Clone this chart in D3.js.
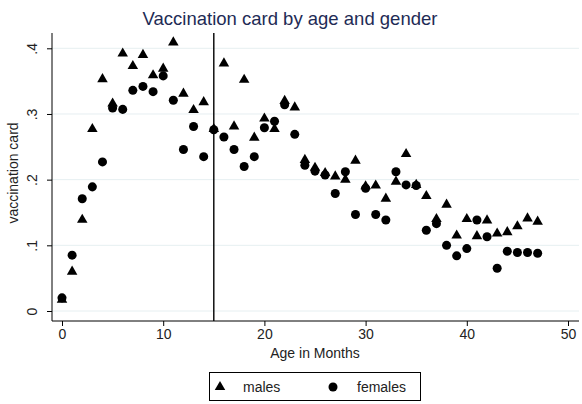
<!DOCTYPE html>
<html>
<head>
<meta charset="utf-8">
<script src="https://cdn.jsdelivr.net/npm/d3@7"></script>
<style>
  body { margin: 0; background: #fff; }
  svg { display: block; font-family: "Liberation Sans", Arial, sans-serif; }
</style>
</head>
<body>
<svg id="chart" width="582" height="404"></svg>
<script>
// ---- data ----
const months = d3.range(0, 48);
const males = [0.017, 0.06, 0.139, 0.277, 0.353, 0.316, 0.392, 0.373, 0.39, 0.359,
  0.369, 0.409, 0.331, 0.306, 0.318, 0.277, 0.377, 0.281, 0.352, 0.264,
  0.293, 0.277, 0.32, 0.31, 0.23, 0.218, 0.21, 0.205, 0.2, 0.229,
  0.19, 0.191, 0.171, 0.197, 0.239, 0.192, 0.175, 0.14, 0.162, 0.115,
  0.14, 0.114, 0.138, 0.118, 0.12, 0.129, 0.141, 0.136];
const females = [0.02, 0.085, 0.171, 0.189, 0.227, 0.309, 0.307, 0.336, 0.342, 0.334,
  0.358, 0.321, 0.246, 0.281, 0.235, 0.276, 0.265, 0.246, 0.22, 0.235,
  0.279, 0.289, 0.314, 0.269, 0.222, 0.213, 0.207, 0.179, 0.212, 0.147,
  0.187, 0.147, 0.1385, 0.212, 0.192, 0.191, 0.123, 0.133, 0.1, 0.084,
  0.095, 0.1385, 0.113, 0.065, 0.091, 0.089, 0.089, 0.088];
const xTicks = [0, 10, 20, 30, 40, 50];
const yTicks = [0, 0.1, 0.2, 0.3, 0.4];
const yTickLabels = ["0", ".1", ".2", ".3", ".4"];
const cutoff = 15;

// ---- layout ----
const svg = d3.select("#chart");
const plot = { left: 52, right: 579, top: 33, bottom: 321 };

const x = d3.scaleLinear().domain([0, 50]).range([62, 568]);
const y = d3.scaleLinear().domain([0, 0.4]).range([311, 48.3]);

// gridlines
svg.append("g")
  .selectAll("line")
  .data(yTicks)
  .join("line")
  .attr("x1", plot.left).attr("x2", plot.right)
  .attr("y1", d => y(d)).attr("y2", d => y(d))
  .attr("stroke", "#e6eff1").attr("stroke-width", 1);

// y axis
const yAxis = svg.append("g")
  .attr("transform", `translate(${plot.left},0)`)
  .call(d3.axisLeft(y).tickValues(yTicks).tickSize(5)
    .tickFormat((d, i) => yTickLabels[i]));
yAxis.select(".domain").attr("d", `M0,${plot.top}V${plot.bottom}`).attr("stroke", "#000");
yAxis.selectAll(".tick line").attr("stroke", "#000");
yAxis.selectAll(".tick text")
  .attr("x", null).attr("dy", null)
  .attr("transform", "translate(-15,0) rotate(-90)")
  .attr("text-anchor", "middle")
  .attr("font-size", 14).attr("fill", "#222");

// x axis
const xAxis = svg.append("g")
  .attr("transform", `translate(0,${plot.bottom})`)
  .call(d3.axisBottom(x).tickValues(xTicks).tickSize(5));
xAxis.select(".domain").attr("d", `M${plot.left},0H${plot.right}`).attr("stroke", "#000");
xAxis.selectAll(".tick line").attr("stroke", "#000");
xAxis.selectAll(".tick text")
  .attr("y", 8).attr("font-size", 14).attr("fill", "#222");

// axis titles
svg.append("text")
  .attr("x", (x(0) + x(50)) / 2).attr("y", 358)
  .attr("text-anchor", "middle").attr("font-size", 14).attr("fill", "#222")
  .text("Age in Months");
svg.append("text")
  .attr("transform", "translate(18,173) rotate(-90)")
  .attr("text-anchor", "middle").attr("font-size", 14).attr("fill", "#222")
  .text("vaccination card");

// title
svg.append("text")
  .attr("x", 290).attr("y", 25)
  .attr("text-anchor", "middle").attr("font-size", 18.5).attr("fill", "#1e2b55")
  .text("Vaccination card by age and gender");

// reference line at 15 months
svg.append("line")
  .attr("x1", x(cutoff)).attr("x2", x(cutoff))
  .attr("y1", plot.top).attr("y2", plot.bottom)
  .attr("stroke", "#000").attr("stroke-width", 1.4);

// markers
const tri = d3.symbol().type(d3.symbolTriangle).size(48);
const circ = d3.symbol().type(d3.symbolCircle).size(64);

svg.append("g")
  .selectAll("path")
  .data(months.map((m, i) => [m, females[i]]))
  .join("path")
  .attr("d", circ)
  .attr("transform", d => `translate(${x(d[0])},${y(d[1])})`)
  .attr("fill", "#000");

svg.append("g")
  .selectAll("path")
  .data(months.map((m, i) => [m, males[i]]))
  .join("path")
  .attr("d", tri)
  .attr("transform", d => `translate(${x(d[0])},${y(d[1])})`)
  .attr("fill", "#000");

// legend
const leg = svg.append("g");
leg.append("rect")
  .attr("x", 209.5).attr("y", 372.5).attr("width", 211).attr("height", 28)
  .attr("fill", "#fff").attr("stroke", "#000").attr("stroke-width", 1);
leg.append("path").attr("d", tri).attr("transform", "translate(220,387)").attr("fill", "#000");
leg.append("text").attr("x", 243).attr("y", 392).attr("font-size", 14).attr("fill", "#222").text("males");
leg.append("path").attr("d", circ).attr("transform", "translate(333,387)").attr("fill", "#000");
leg.append("text").attr("x", 357).attr("y", 392).attr("font-size", 14).attr("fill", "#222").text("females");
</script>
</body>
</html>
